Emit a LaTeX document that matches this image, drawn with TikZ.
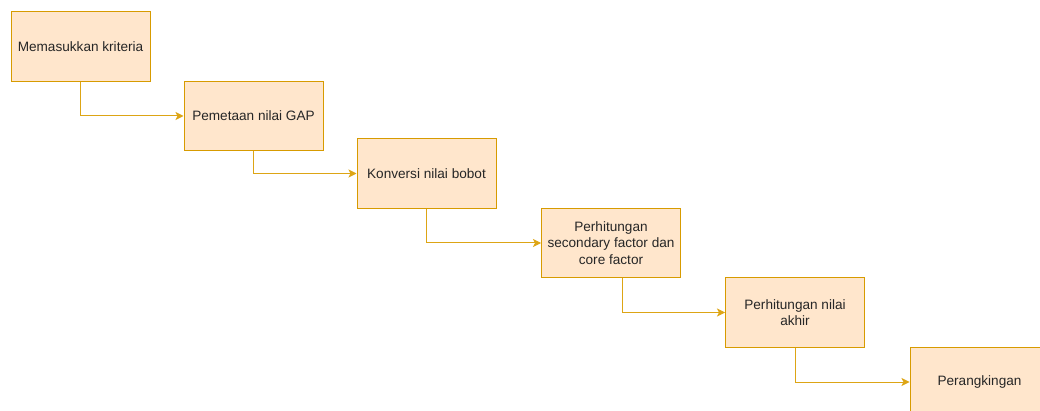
\documentclass[tikz,border=0pt]{standalone}
\usepackage{fontspec}
\setmainfont{Liberation Sans}
\usepackage{tikz}
\usetikzlibrary{arrows.meta,positioning,calc}
\definecolor{stepfill}{HTML}{FFE6CC}
\definecolor{stepline}{HTML}{D79B00}
\definecolor{flowline}{HTML}{DDA515}
\definecolor{steptext}{HTML}{262626}

\begin{document}
\begin{tikzpicture}[x=1pt, y=-1pt,
    stepbox/.style={draw=stepline, fill=stepfill, line width=1pt, minimum width=139pt, minimum height=69.5pt, inner sep=0pt, align=center, text=steptext, font=\fontsize{13.6}{16.7}\selectfont},
    flow/.style={-{Stealth[length=8pt, width=8pt, inset=2pt]}, draw=flowline, line width=1pt}
]
    \useasboundingbox (0,0) rectangle (1040,411);

    % Nodes
    \node[stepbox] (kriteria) at (80.5,46.5) {Memasukkan kriteria};
    \node[stepbox] (gap) at (253.5,116) {Pemetaan nilai GAP};
    \node[stepbox] (bobot) at (426.5,173.5) {Konversi nilai bobot};
    \node[stepbox] (factor) at (611,243) {Perhitungan\\secondary factor dan\\core factor};
    \node[stepbox] (akhir) at (795,312.5) {Perhitungan nilai\\akhir};
    \node[stepbox] (ranking) at (979.5,382) {Perangkingan};

    % Transitions
    \draw[flow] (kriteria.south) |- (gap.west);
    \draw[flow] (gap.south) |- (bobot.west);
    \draw[flow] (bobot.south) |- (factor.west);
    \draw[flow] ([xshift=11pt]factor.south) |- (akhir.west);
    \draw[flow] (akhir.south) |- (ranking.west);
\end{tikzpicture}
\end{document}
